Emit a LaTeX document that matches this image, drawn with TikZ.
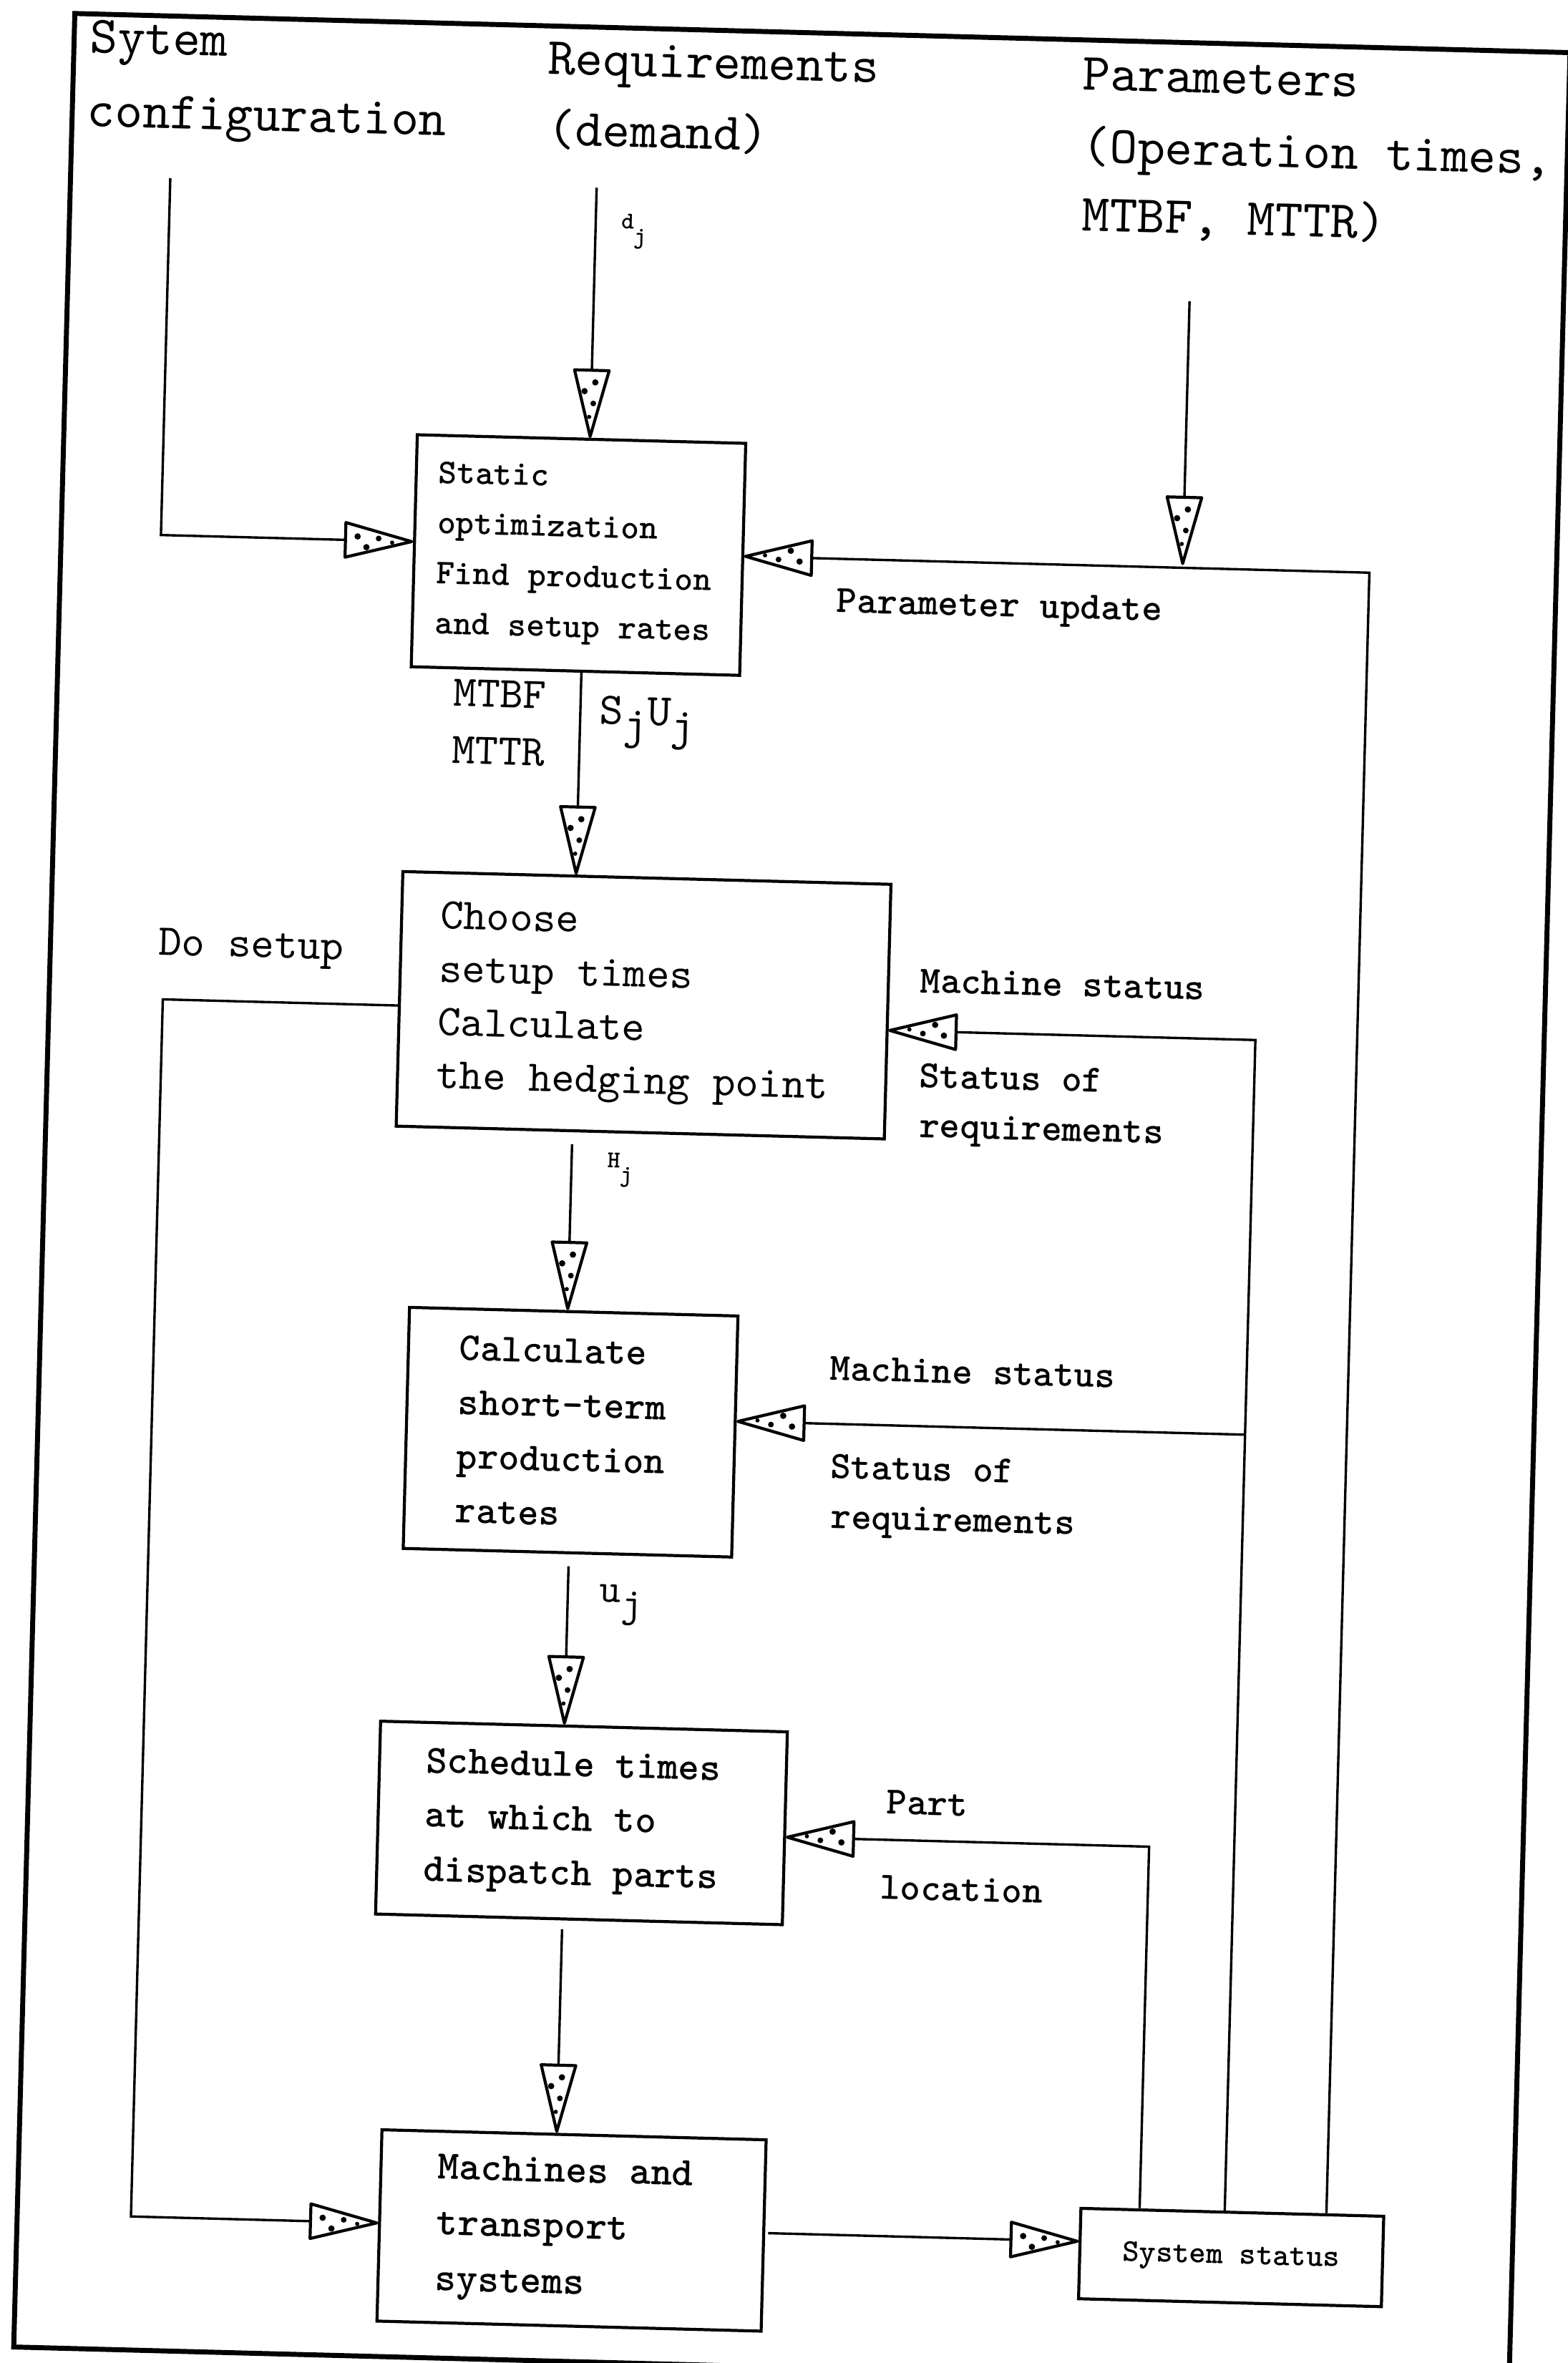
\documentclass[tikz,border=0pt]{standalone}
\usepackage{fontspec}
\setmainfont{lmmono10-regular.otf}[BoldFont=lmmonolt10-bold.otf]
\usetikzlibrary{arrows.meta,calc}

% keep word spaces at full character width inside ragged box text
\newcommand\fixsp{\spaceskip=0.525em\relax\xspaceskip=\spaceskip}

% open triangle with a stippled interior, used on every flow arrow
\pgfdeclarearrow{
  name = Stipple,
  setup code = {
    \pgfarrowssettipend{0.8pt}
    \pgfarrowssetlineend{-42pt}
    \pgfarrowsupperhullpoint{-44pt}{11.5pt}
    \pgfarrowshullpoint{0.8pt}{0pt}
  },
  drawing code = {
    \pgfsetdash{}{0pt}
    \pgfsetroundjoin
    \pgfsetlinewidth{2pt}
    \pgfpathmoveto{\pgfpointorigin}
    \pgfpathlineto{\pgfpoint{-44pt}{11.5pt}}
    \pgfpathlineto{\pgfpoint{-44pt}{-11.5pt}}
    \pgfpathclose
    \pgfsetfillcolor{white}
    \pgfusepathqfillstroke
    \pgfsetfillcolor{black}
    \pgfpathcircle{\pgfpoint{-36pt}{2.5pt}}{2.1pt}
    \pgfpathcircle{\pgfpoint{-30pt}{-4.5pt}}{2.1pt}
    \pgfpathcircle{\pgfpoint{-22pt}{1.5pt}}{1.9pt}
    \pgfpathcircle{\pgfpoint{-13pt}{-1pt}}{1.4pt}
    \pgfusepathqfill
  }
}

\begin{document}
\begin{tikzpicture}[x=1pt,y=-1pt,
  box/.style={draw, line width=2pt, rectangle, inner ysep=0pt, align=left},
  flow/.style={line width=1.6pt, -Stipple},
  toplab/.style={font=\fontsize{34.9pt}{40pt}\selectfont, inner sep=0pt, anchor=base west},
  sidelab/.style={font=\bfseries\fontsize{25.7pt}{30pt}\selectfont, inner sep=0pt, anchor=base west},
  sublab/.style={inner sep=0pt, anchor=base west},
]
\useasboundingbox (0,0) rectangle (1040,1568);
\fill[white] (0,0) rectangle (1040,1568);

\begin{scope}[rotate around={-1.5:(520,784)}, transform shape]

% outer frame
\draw[line width=3.3pt] (29.5,21.5) rectangle (1022,1570.5);

% input headings
\node[toplab] (cfg1) at (40,47) {Sytem};
\node[toplab] (cfg2) at (39.5,96) {configuration};
\node[toplab] (req1) at (344,53.5) {Requirements};
\node[toplab] (req2) at (345,100.5) {(demand)};
\node[toplab] (par1) at (699,54.5) {Parameters};
\node[toplab] (par2) at (700,102.5) {(Operation times,};
\node[toplab] (par3) at (701,148) {MTBF, MTTR)};

% process boxes
\node[box, font=\bfseries\fontsize{23.2pt}{33.3pt}\selectfont,
      inner xsep=15pt, text width=188pt, minimum height=154pt]
  (static) at (373,372) {\fixsp Static\\optimization\\Find production\\and setup rates};
\node[box, font=\fontsize{29.1pt}{35.3pt}\selectfont,
      inner xsep=26pt, text width=272pt, minimum height=169pt]
  (choose) at (424,669.5) {\fixsp Choose\\setup times\\Calculate\\the hedging point};
\node[box, font=\bfseries\fontsize{26.3pt}{36pt}\selectfont,
      inner xsep=34pt, text width=150pt, minimum height=160pt]
  (calc) at (383,954) {\fixsp Calculate\\short-term\\production\\rates};
\node[box, font=\bfseries\fontsize{26.6pt}{36pt}\selectfont,
      inner xsep=31pt, text width=208pt, minimum height=128pt]
  (sched) at (397,1213) {\fixsp Schedule times\\at which to\\dispatch parts};
\node[box, font=\bfseries\fontsize{26.9pt}{37pt}\selectfont,
      inner xsep=38pt, text width=179pt, minimum height=127pt]
  (mach) at (397.5,1483.5) {\fixsp Machines and\\transport\\systems};
\node[box, font=\bfseries\fontsize{21.1pt}{24pt}\selectfont,
      inner xsep=0pt, align=center, minimum width=201pt, minimum height=60pt]
  (sys) at (835.5,1490) {System status};

% routing points
\coordinate (cfgtop) at (95.7,129);
\coordinate (cfgturn) at (95.7,366);
\coordinate (reqtop) at (378.7,128);
\coordinate (partop) at (774,193);
\coordinate (updturn) at (898,370);
\coordinate (sjline) at (377,500);
\coordinate (hjline) at (379,800);
\coordinate (ujline) at (384,1080);
\coordinate (dpline) at (386,1320);
\coordinate (msturn) at (830.5,682);
\coordinate (mstee) at (830.5,944);
\coordinate (plturn) at (774,1219);
\coordinate (dsturn) at (105,674);
\coordinate (dsbot) at (105,1482);

% connectors
\draw[flow] (cfgtop) -- (cfgturn) -- (cfgturn -| static.west);
\draw[flow] (reqtop) -- (reqtop |- static.north);
\draw[flow] (partop) -- ($(partop |- updturn)+(0,-2)$);
\draw[flow] (sys.north -| updturn) -- (updturn) -- (updturn -| static.east);
\draw[flow] (static.south -| sjline) -- (choose.north -| sjline);
\draw[flow, shorten <=8pt] (choose.south -| hjline) -- (calc.north -| hjline);
\draw[flow, shorten <=8pt] (calc.south -| ujline) -- (sched.north -| ujline);
\draw[flow, shorten <=6pt] (sched.south -| dpline) -- (mach.north -| dpline);
\draw[flow] (sys.north -| msturn) -- (msturn) -- (msturn -| choose.east);
\draw[flow] (mstee) -- (mstee -| calc.east);
\draw[flow] (sys.north -| plturn) -- (plturn) -- (plturn -| sched.east);
\draw[flow] (choose.west |- dsturn) -- (dsturn) -- (dsbot) -- (dsbot -| mach.west);
\draw[flow, shorten <=2pt] (mach.east |- dsbot) -- (sys.west |- dsbot);

% connector labels
\node[sublab, font=\bfseries\fontsize{16pt}{18pt}\selectfont] (dj) at (395.5,154.7)
  {d\raisebox{-10pt}{j}};
\node[sublab, font=\fontsize{29.1pt}{30pt}\selectfont] (mtbf) at (292.6,474.4) {MTBF};
\node[sublab, font=\fontsize{29.1pt}{30pt}\selectfont] (mttr) at (292.6,512.4) {MTTR};
\node[sublab, font=\fontsize{30pt}{30pt}\selectfont] (sjuj) at (389.8,483.7)
  {S\raisebox{-9pt}{j}U\raisebox{-9pt}{j}};
\node[sublab, font=\bfseries\fontsize{16pt}{18pt}\selectfont] (hj) at (402.6,778)
  {H\raisebox{-9pt}{j}};
\node[sublab, font=\fontsize{27pt}{28pt}\selectfont] (uj) at (405,1066)
  {u\raisebox{-9pt}{j}};
\node[sidelab] (upd) at (545,405.6) {Parameter update};
\node[sidelab] (ms1) at (607,656.3) {Machine status};
\node[sidelab] (sr1a) at (608,719.3) {Status of};
\node[sidelab] (sr1b) at (609,752.3) {requirements};
\node[sidelab] (ms2) at (554,915) {Machine status};
\node[sidelab] (sr2a) at (556,980) {Status of};
\node[sidelab] (sr2b) at (557,1013.3) {requirements};
\node[sidelab] (pl1) at (599,1201.8) {Part};
\node[sidelab] (pl2) at (596,1258.3) {location};
\node[sublab, font=\fontsize{29.3pt}{30pt}\selectfont] (dosetup) at (101,644.5) {Do setup};

\end{scope}
\end{tikzpicture}
\end{document}
